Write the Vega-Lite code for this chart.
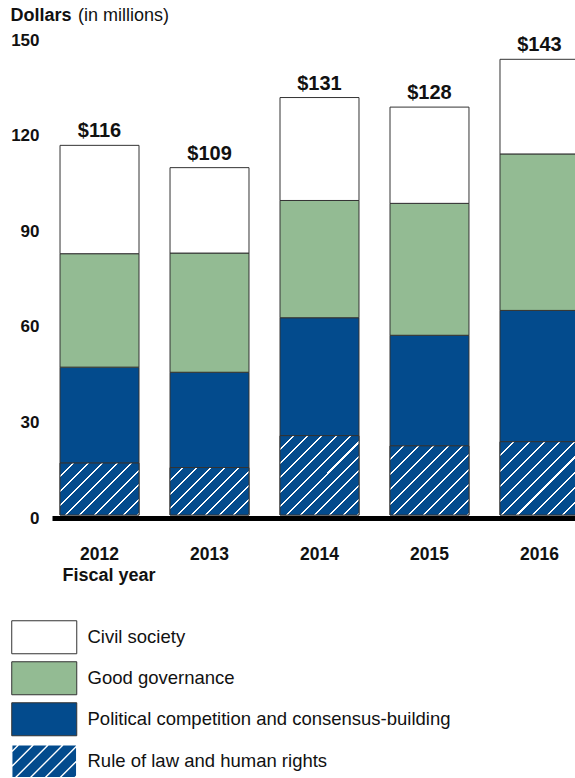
{
 "$schema": "https://vega.github.io/schema/vega-lite/v6.json",
 "width": 523,
 "height": 478,
 "autosize": {"type": "none"},
 "padding": {"left": 52, "top": 37, "right": 0, "bottom": 263},
 "background": "#ffffff",
 "config": {
  "font": "Liberation Sans",
  "view": {"stroke": null},
  "axis": {"grid": false, "ticks": false, "tickSize": 0, "labelColor": "#111111", "titleColor": "#111111"}
 },
 "title": {"text": "(in millions)", "anchor": "start", "frame": "group", "fontSize": 18, "fontWeight": "normal", "font": "Liberation Sans", "color": "#111111", "dx": 26, "offset": -32.5, "baseline": "alphabetic"},
 "data": {"values": [
  {"year": "2012", "category": "Rule of law and human rights", "value": 16.3},
  {"year": "2012", "category": "Political competition and consensus-building", "value": 30.1},
  {"year": "2012", "category": "Good governance", "value": 35.6},
  {"year": "2012", "category": "Civil society", "value": 34.0},
  {"year": "2013", "category": "Rule of law and human rights", "value": 14.9},
  {"year": "2013", "category": "Political competition and consensus-building", "value": 29.9},
  {"year": "2013", "category": "Good governance", "value": 37.4},
  {"year": "2013", "category": "Civil society", "value": 26.8},
  {"year": "2014", "category": "Rule of law and human rights", "value": 24.9},
  {"year": "2014", "category": "Political competition and consensus-building", "value": 37.0},
  {"year": "2014", "category": "Good governance", "value": 36.8},
  {"year": "2014", "category": "Civil society", "value": 32.3},
  {"year": "2015", "category": "Rule of law and human rights", "value": 21.7},
  {"year": "2015", "category": "Political competition and consensus-building", "value": 34.7},
  {"year": "2015", "category": "Good governance", "value": 41.4},
  {"year": "2015", "category": "Civil society", "value": 30.2},
  {"year": "2016", "category": "Rule of law and human rights", "value": 23.0},
  {"year": "2016", "category": "Political competition and consensus-building", "value": 41.2},
  {"year": "2016", "category": "Good governance", "value": 49.1},
  {"year": "2016", "category": "Civil society", "value": 29.7}
 ]},
 "layer": [
  {
   "mark": {"type": "bar", "stroke": "#333333", "strokeWidth": 1},
   "encoding": {
    "x": {"field": "year", "type": "nominal", "title": "Fiscal year",
     "scale": {"range": [0, 535], "paddingInner": 0.282, "paddingOuter": 0.073},
     "axis": {"labelAngle": 0, "labelFontSize": 17.5, "labelFontWeight": "bold", "labelBaseline": "alphabetic", "labelPadding": 41,
      "domain": true, "domainColor": "#000000", "domainWidth": 5, "offset": 3,
      "titleFontSize": 18, "titleFontWeight": "bold", "titleX": 10, "titleY": 62.7, "titleAlign": "left", "titleBaseline": "alphabetic", "titleAngle": 0}},
    "y": {"field": "value", "type": "quantitative", "title": "Dollars",
     "scale": {"domain": [0, 150], "nice": false},
     "axis": {"values": [0, 30, 60, 90, 120, 150], "labelFontSize": 17, "labelFontWeight": "bold", "labelPadding": 13, "labelOffset": 3,
      "labelFlush": false, "labelOverlap": false, "domain": false,
      "titleFontSize": 18, "titleFontWeight": "bold", "titleAngle": 0, "titleX": -42, "titleY": -16.5, "titleAlign": "left", "titleBaseline": "alphabetic"}},
    "color": {"field": "category", "type": "nominal",
     "scale": {"domain": ["Civil society", "Good governance", "Political competition and consensus-building", "Rule of law and human rights"],
      "range": ["#ffffff", "#93bb93", "#034b8d", "#034b8d"]},
     "legend": {"orient": "none", "legendX": -17, "legendY": 591, "title": null,
      "symbolType": "M-1.97,-1H1.97V1H-1.97Z", "symbolSize": 1089, "symbolStrokeColor": "#333333", "symbolStrokeWidth": 1,
      "labelFontSize": 18.5, "labelFont": "Liberation Sans", "labelColor": "#111111", "labelOffset": 34, "rowPadding": 3, "labelLimit": 0, "padding": 0,
      "encode": {"symbols": {
       "update": {
        "stroke": {"signal": "datum.value === 'Rule of law and human rights' ? '#ffffff' : '#333333'"},
        "strokeWidth": {"signal": "datum.value === 'Rule of law and human rights' ? 1.4 : 1"},
        "shape": {"signal": "datum.value === 'Rule of law and human rights' ? 'M-1.97,-1H1.97V1H-1.97Z M-1.97,-0.58L-1.55,-1 M-1.97,0.32L-0.65,-1 M-1.75,1L0.25,-1 M-0.85,1L1.15,-1 M0.05,1L1.97,-0.92 M0.95,1L1.97,-0.02 M1.85,1L1.97,0.88' : 'M-1.97,-1H1.97V1H-1.97Z'"}
       }}}}},
    "order": {"field": "category", "sort": "descending"}
   }
  },
  {
   "transform": [{"filter": "datum.category === 'Rule of law and human rights'"}],
   "mark": {"type": "bar", "stroke": "#333333", "strokeWidth": 1},
   "encoding": {
    "x": {"field": "year", "type": "nominal", "title": "Fiscal year"},
    "y": {"field": "value", "type": "quantitative", "title": "Dollars"},
    "fill": {"condition": [
     {"test": "datum.year === '2012'", "value": {"gradient": "linear", "x1": 0, "y1": 0, "x2": 1.157, "y2": 0.76, "stops": [
      {"offset": 0, "color": "#034b8d"}, {"offset": 0.0956, "color": "#034b8d"}, {"offset": 0.0956, "color": "#ffffff"}, {"offset": 0.1111, "color": "#ffffff"},
      {"offset": 0.1111, "color": "#034b8d"}, {"offset": 0.2067, "color": "#034b8d"}, {"offset": 0.2067, "color": "#ffffff"}, {"offset": 0.2222, "color": "#ffffff"},
      {"offset": 0.2222, "color": "#034b8d"}, {"offset": 0.3178, "color": "#034b8d"}, {"offset": 0.3178, "color": "#ffffff"}, {"offset": 0.3333, "color": "#ffffff"},
      {"offset": 0.3333, "color": "#034b8d"}, {"offset": 0.4289, "color": "#034b8d"}, {"offset": 0.4289, "color": "#ffffff"}, {"offset": 0.4444, "color": "#ffffff"},
      {"offset": 0.4444, "color": "#034b8d"}, {"offset": 0.54, "color": "#034b8d"}, {"offset": 0.54, "color": "#ffffff"}, {"offset": 0.5556, "color": "#ffffff"},
      {"offset": 0.5556, "color": "#034b8d"}, {"offset": 0.6511, "color": "#034b8d"}, {"offset": 0.6511, "color": "#ffffff"}, {"offset": 0.6667, "color": "#ffffff"},
      {"offset": 0.6667, "color": "#034b8d"}, {"offset": 0.7622, "color": "#034b8d"}, {"offset": 0.7622, "color": "#ffffff"}, {"offset": 0.7778, "color": "#ffffff"},
      {"offset": 0.7778, "color": "#034b8d"}, {"offset": 0.8733, "color": "#034b8d"}, {"offset": 0.8733, "color": "#ffffff"}, {"offset": 0.8889, "color": "#ffffff"},
      {"offset": 0.8889, "color": "#034b8d"}, {"offset": 0.9844, "color": "#034b8d"}, {"offset": 0.9844, "color": "#ffffff"}, {"offset": 1, "color": "#ffffff"}]}},
     {"test": "datum.year === '2013'", "value": {"gradient": "linear", "x1": 0, "y1": 0, "x2": 1.176, "y2": 0.707, "stops": [
      {"offset": 0, "color": "#034b8d"}, {"offset": 0.0956, "color": "#034b8d"}, {"offset": 0.0956, "color": "#ffffff"}, {"offset": 0.1111, "color": "#ffffff"},
      {"offset": 0.1111, "color": "#034b8d"}, {"offset": 0.2067, "color": "#034b8d"}, {"offset": 0.2067, "color": "#ffffff"}, {"offset": 0.2222, "color": "#ffffff"},
      {"offset": 0.2222, "color": "#034b8d"}, {"offset": 0.3178, "color": "#034b8d"}, {"offset": 0.3178, "color": "#ffffff"}, {"offset": 0.3333, "color": "#ffffff"},
      {"offset": 0.3333, "color": "#034b8d"}, {"offset": 0.4289, "color": "#034b8d"}, {"offset": 0.4289, "color": "#ffffff"}, {"offset": 0.4444, "color": "#ffffff"},
      {"offset": 0.4444, "color": "#034b8d"}, {"offset": 0.54, "color": "#034b8d"}, {"offset": 0.54, "color": "#ffffff"}, {"offset": 0.5556, "color": "#ffffff"},
      {"offset": 0.5556, "color": "#034b8d"}, {"offset": 0.6511, "color": "#034b8d"}, {"offset": 0.6511, "color": "#ffffff"}, {"offset": 0.6667, "color": "#ffffff"},
      {"offset": 0.6667, "color": "#034b8d"}, {"offset": 0.7622, "color": "#034b8d"}, {"offset": 0.7622, "color": "#ffffff"}, {"offset": 0.7778, "color": "#ffffff"},
      {"offset": 0.7778, "color": "#034b8d"}, {"offset": 0.8733, "color": "#034b8d"}, {"offset": 0.8733, "color": "#ffffff"}, {"offset": 0.8889, "color": "#ffffff"},
      {"offset": 0.8889, "color": "#034b8d"}, {"offset": 0.9844, "color": "#034b8d"}, {"offset": 0.9844, "color": "#ffffff"}, {"offset": 1, "color": "#ffffff"}]}},
     {"test": "datum.year === '2014'", "value": {"gradient": "linear", "x1": 0, "y1": 0, "x2": 0.998, "y2": 1.002, "stops": [
      {"offset": 0, "color": "#034b8d"}, {"offset": 0.0782, "color": "#034b8d"}, {"offset": 0.0782, "color": "#ffffff"}, {"offset": 0.0909, "color": "#ffffff"},
      {"offset": 0.0909, "color": "#034b8d"}, {"offset": 0.1691, "color": "#034b8d"}, {"offset": 0.1691, "color": "#ffffff"}, {"offset": 0.1818, "color": "#ffffff"},
      {"offset": 0.1818, "color": "#034b8d"}, {"offset": 0.26, "color": "#034b8d"}, {"offset": 0.26, "color": "#ffffff"}, {"offset": 0.2727, "color": "#ffffff"},
      {"offset": 0.2727, "color": "#034b8d"}, {"offset": 0.3509, "color": "#034b8d"}, {"offset": 0.3509, "color": "#ffffff"}, {"offset": 0.3636, "color": "#ffffff"},
      {"offset": 0.3636, "color": "#034b8d"}, {"offset": 0.4418, "color": "#034b8d"}, {"offset": 0.4418, "color": "#ffffff"}, {"offset": 0.4545, "color": "#ffffff"},
      {"offset": 0.4545, "color": "#034b8d"}, {"offset": 0.5327, "color": "#034b8d"}, {"offset": 0.5327, "color": "#ffffff"}, {"offset": 0.5455, "color": "#ffffff"},
      {"offset": 0.5455, "color": "#034b8d"}, {"offset": 0.6236, "color": "#034b8d"}, {"offset": 0.6236, "color": "#ffffff"}, {"offset": 0.6364, "color": "#ffffff"},
      {"offset": 0.6364, "color": "#034b8d"}, {"offset": 0.7145, "color": "#034b8d"}, {"offset": 0.7145, "color": "#ffffff"}, {"offset": 0.7273, "color": "#ffffff"},
      {"offset": 0.7273, "color": "#034b8d"}, {"offset": 0.8055, "color": "#034b8d"}, {"offset": 0.8055, "color": "#ffffff"}, {"offset": 0.8182, "color": "#ffffff"},
      {"offset": 0.8182, "color": "#034b8d"}, {"offset": 0.8964, "color": "#034b8d"}, {"offset": 0.8964, "color": "#ffffff"}, {"offset": 0.9091, "color": "#ffffff"},
      {"offset": 0.9091, "color": "#034b8d"}, {"offset": 0.9873, "color": "#034b8d"}, {"offset": 0.9873, "color": "#ffffff"}, {"offset": 1, "color": "#ffffff"}]}},
     {"test": "datum.year === '2015'", "value": {"gradient": "linear", "x1": 0, "y1": 0, "x2": 1.062, "y2": 0.93, "stops": [
      {"offset": 0, "color": "#034b8d"}, {"offset": 0.086, "color": "#034b8d"}, {"offset": 0.086, "color": "#ffffff"}, {"offset": 0.1, "color": "#ffffff"},
      {"offset": 0.1, "color": "#034b8d"}, {"offset": 0.186, "color": "#034b8d"}, {"offset": 0.186, "color": "#ffffff"}, {"offset": 0.2, "color": "#ffffff"},
      {"offset": 0.2, "color": "#034b8d"}, {"offset": 0.286, "color": "#034b8d"}, {"offset": 0.286, "color": "#ffffff"}, {"offset": 0.3, "color": "#ffffff"},
      {"offset": 0.3, "color": "#034b8d"}, {"offset": 0.386, "color": "#034b8d"}, {"offset": 0.386, "color": "#ffffff"}, {"offset": 0.4, "color": "#ffffff"},
      {"offset": 0.4, "color": "#034b8d"}, {"offset": 0.486, "color": "#034b8d"}, {"offset": 0.486, "color": "#ffffff"}, {"offset": 0.5, "color": "#ffffff"},
      {"offset": 0.5, "color": "#034b8d"}, {"offset": 0.586, "color": "#034b8d"}, {"offset": 0.586, "color": "#ffffff"}, {"offset": 0.6, "color": "#ffffff"},
      {"offset": 0.6, "color": "#034b8d"}, {"offset": 0.686, "color": "#034b8d"}, {"offset": 0.686, "color": "#ffffff"}, {"offset": 0.7, "color": "#ffffff"},
      {"offset": 0.7, "color": "#034b8d"}, {"offset": 0.786, "color": "#034b8d"}, {"offset": 0.786, "color": "#ffffff"}, {"offset": 0.8, "color": "#ffffff"},
      {"offset": 0.8, "color": "#034b8d"}, {"offset": 0.886, "color": "#034b8d"}, {"offset": 0.886, "color": "#ffffff"}, {"offset": 0.9, "color": "#ffffff"},
      {"offset": 0.9, "color": "#034b8d"}, {"offset": 0.986, "color": "#034b8d"}, {"offset": 0.986, "color": "#ffffff"}, {"offset": 1, "color": "#ffffff"}]}}
    ],
    "value": {"gradient": "linear", "x1": 0, "y1": 0, "x2": 1.036, "y2": 0.961, "stops": [
      {"offset": 0, "color": "#034b8d"}, {"offset": 0.086, "color": "#034b8d"}, {"offset": 0.086, "color": "#ffffff"}, {"offset": 0.1, "color": "#ffffff"},
      {"offset": 0.1, "color": "#034b8d"}, {"offset": 0.186, "color": "#034b8d"}, {"offset": 0.186, "color": "#ffffff"}, {"offset": 0.2, "color": "#ffffff"},
      {"offset": 0.2, "color": "#034b8d"}, {"offset": 0.286, "color": "#034b8d"}, {"offset": 0.286, "color": "#ffffff"}, {"offset": 0.3, "color": "#ffffff"},
      {"offset": 0.3, "color": "#034b8d"}, {"offset": 0.386, "color": "#034b8d"}, {"offset": 0.386, "color": "#ffffff"}, {"offset": 0.4, "color": "#ffffff"},
      {"offset": 0.4, "color": "#034b8d"}, {"offset": 0.486, "color": "#034b8d"}, {"offset": 0.486, "color": "#ffffff"}, {"offset": 0.5, "color": "#ffffff"},
      {"offset": 0.5, "color": "#034b8d"}, {"offset": 0.586, "color": "#034b8d"}, {"offset": 0.586, "color": "#ffffff"}, {"offset": 0.6, "color": "#ffffff"},
      {"offset": 0.6, "color": "#034b8d"}, {"offset": 0.686, "color": "#034b8d"}, {"offset": 0.686, "color": "#ffffff"}, {"offset": 0.7, "color": "#ffffff"},
      {"offset": 0.7, "color": "#034b8d"}, {"offset": 0.786, "color": "#034b8d"}, {"offset": 0.786, "color": "#ffffff"}, {"offset": 0.8, "color": "#ffffff"},
      {"offset": 0.8, "color": "#034b8d"}, {"offset": 0.886, "color": "#034b8d"}, {"offset": 0.886, "color": "#ffffff"}, {"offset": 0.9, "color": "#ffffff"},
      {"offset": 0.9, "color": "#034b8d"}, {"offset": 0.986, "color": "#034b8d"}, {"offset": 0.986, "color": "#ffffff"}, {"offset": 1, "color": "#ffffff"}]}}
   }
  },
  {
   "mark": {"type": "text", "fontSize": 20, "fontWeight": "bold", "baseline": "alphabetic", "dy": -8, "color": "#111111", "font": "Liberation Sans"},
   "encoding": {
    "x": {"field": "year", "type": "nominal", "title": "Fiscal year"},
    "y": {"aggregate": "sum", "field": "value", "type": "quantitative", "title": "Dollars"},
    "text": {"aggregate": "sum", "field": "value", "type": "quantitative", "format": "$.0f"}
   }
  }
 ]
}
